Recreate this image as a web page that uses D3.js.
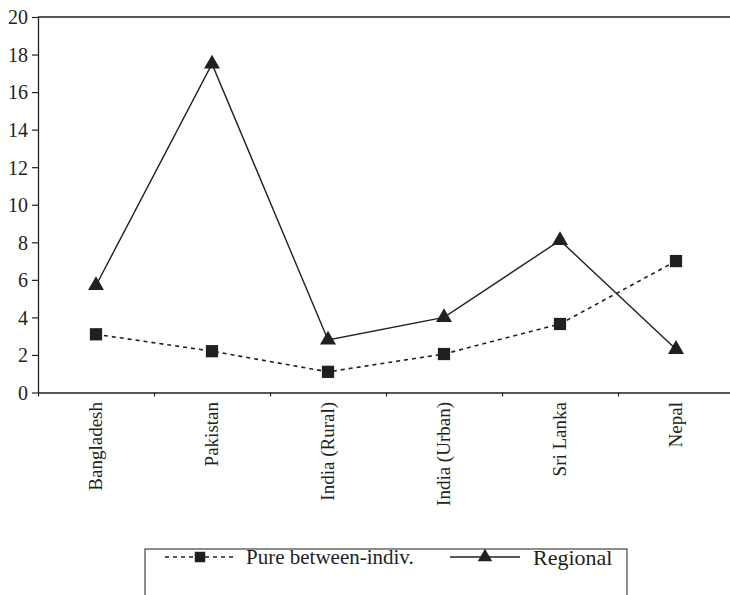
<!DOCTYPE html>
<html>
<head>
<meta charset="utf-8">
<script src="https://cdn.jsdelivr.net/npm/d3@7"></script>
<style>
  body { margin: 0; background: #fff; }
  svg { display: block; }
</style>
</head>
<body>
<div id="chart"></div>
<script>
// Data
const categories = ["Bangladesh", "Pakistan", "India (Rural)", "India (Urban)", "Sri Lanka", "Nepal"];
const pureValues = [3.1, 2.2, 1.1, 2.05, 3.65, 7.0];
const regionalValues = [5.7, 17.5, 2.8, 4.0, 8.1, 2.3];
const yTicks = [0, 2, 4, 6, 8, 10, 12, 14, 16, 18, 20];
const seriesNames = ["Pure between-indiv.", "Regional"];

const W = 730, H = 595;
const ink = "#231f20";
const serif = "'Liberation Serif', 'DejaVu Serif', serif";
const plotLeft = 38, plotTop = 17, plotBottom = 392.5, plotRight = 734;

const svg = d3.select("#chart").append("svg")
  .attr("width", W)
  .attr("height", H);

// Scales
const x = d3.scaleBand().domain(categories).range([plotLeft, plotRight]).padding(0);
const xb = d3.scaleLinear().domain([0, categories.length]).range([plotLeft, plotRight]);
const y = d3.scaleLinear().domain([0, 20]).range([plotBottom, plotTop]);
const cx = c => x(c) + x.bandwidth() / 2;

// Y axis
const yAxis = svg.append("g")
  .attr("transform", `translate(${plotLeft},0)`)
  .call(d3.axisLeft(y).tickValues(yTicks).tickSize(6).tickPadding(4).tickSizeOuter(0));
yAxis.select(".domain").attr("stroke", ink).attr("stroke-width", 1.3);
yAxis.selectAll(".tick line").attr("stroke", ink).attr("stroke-width", 1.2);
yAxis.selectAll("text")
  .attr("fill", ink)
  .attr("dy", "0.34em")
  .style("font-family", serif)
  .style("font-size", "20px");

// X axis (ticks between categories)
const xAxis = svg.append("g")
  .attr("transform", `translate(0,${plotBottom})`)
  .call(d3.axisBottom(xb).tickValues(d3.range(0, categories.length + 1)).tickFormat("").tickSize(4).tickSizeOuter(0));
xAxis.select(".domain").attr("stroke", ink).attr("stroke-width", 1.3);
xAxis.selectAll(".tick line").attr("stroke", ink).attr("stroke-width", 1.2);

// top frame line
svg.append("line")
  .attr("x1", plotLeft).attr("x2", W)
  .attr("y1", y(20)).attr("y2", y(20))
  .attr("stroke", ink).attr("stroke-width", 1.3);

// Category labels, rotated
svg.selectAll(".cat")
  .data(categories)
  .enter()
  .append("text")
  .attr("class", "cat")
  .attr("transform", d => `translate(${cx(d)},${plotBottom + 9.5}) rotate(-90)`)
  .attr("text-anchor", "end")
  .attr("dy", "0.3em")
  .attr("fill", ink)
  .style("font-family", serif)
  .style("font-size", "19px")
  .text(d => d);

// Lines
const line = d3.line()
  .x((d, i) => cx(categories[i]))
  .y(d => y(d));

svg.append("path")
  .datum(pureValues)
  .attr("d", line)
  .attr("fill", "none")
  .attr("stroke", ink)
  .attr("stroke-width", 1.6)
  .attr("stroke-dasharray", "4,4");

svg.append("path")
  .datum(regionalValues)
  .attr("d", line)
  .attr("fill", "none")
  .attr("stroke", ink)
  .attr("stroke-width", 1.4);

// Markers
const sq = d3.symbol().type(d3.symbolSquare).size(150);
const tri = d3.symbol().type(d3.symbolTriangle).size(110);

svg.selectAll(".sq")
  .data(pureValues)
  .enter()
  .append("path")
  .attr("class", "sq")
  .attr("d", sq)
  .attr("transform", (d, i) => `translate(${cx(categories[i])},${y(d)})`)
  .attr("fill", ink);

svg.selectAll(".tri")
  .data(regionalValues)
  .enter()
  .append("path")
  .attr("class", "tri")
  .attr("d", tri)
  .attr("transform", (d, i) => `translate(${cx(categories[i])},${y(d)})`)
  .attr("fill", ink);

// Legend
const legend = svg.append("g");
legend.append("rect")
  .attr("x", 145).attr("y", 549)
  .attr("width", 482).attr("height", 60)
  .attr("fill", "none")
  .attr("stroke", "#444")
  .attr("stroke-width", 1.2);

const ly = 557;
const lsq = d3.symbol().type(d3.symbolSquare).size(110);
const ltri = d3.symbol().type(d3.symbolTriangle).size(90);

legend.append("line")
  .attr("x1", 165).attr("x2", 236).attr("y1", ly).attr("y2", ly)
  .attr("stroke", ink).attr("stroke-width", 1.6).attr("stroke-dasharray", "4,4");
legend.append("path").attr("d", lsq).attr("transform", `translate(200,${ly})`).attr("fill", ink);
legend.append("text")
  .attr("x", 246).attr("y", ly).attr("dy", "0.35em")
  .attr("fill", ink)
  .style("font-family", serif)
  .style("font-size", "21px")
  .text(seriesNames[0]);

legend.append("line")
  .attr("x1", 450).attr("x2", 520).attr("y1", ly).attr("y2", ly)
  .attr("stroke", ink).attr("stroke-width", 1.4);
legend.append("path").attr("d", ltri).attr("transform", `translate(485,${ly})`).attr("fill", ink);
legend.append("text")
  .attr("x", 533).attr("y", ly).attr("dy", "0.35em")
  .attr("fill", ink)
  .style("font-family", serif)
  .style("font-size", "22px")
  .text(seriesNames[1]);
</script>
</body>
</html>
